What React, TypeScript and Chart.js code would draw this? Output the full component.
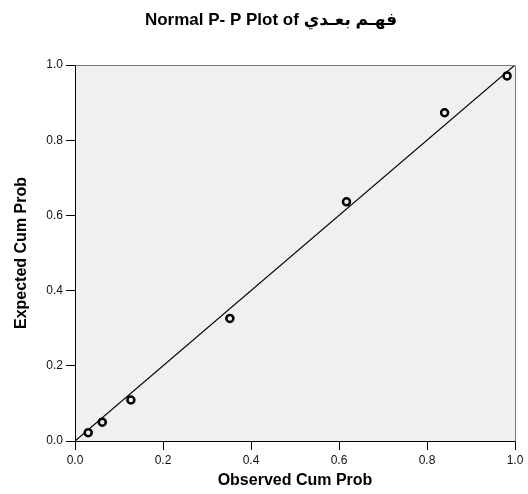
import React, { useEffect, useRef } from "react";
import { Chart, registerables } from "chart.js";

Chart.register(...registerables);

const observedCumProb = [0.030, 0.062, 0.127, 0.352, 0.617, 0.840, 0.982];
const expectedCumProb = [0.022, 0.050, 0.109, 0.326, 0.636, 0.873, 0.971];
const referenceLine = [0, 1];
const tickValues = [0, 0.2, 0.4, 0.6, 0.8, 1.0];

const chartTitle = "Normal P- P Plot of فهـم بعـدي";
const xTitle = "Observed Cum Prob";
const yTitle = "Expected Cum Prob";

const FONT = '"Liberation Sans", Arial, "DejaVu Sans", sans-serif';

export default function App() {
  const ref = useRef<HTMLCanvasElement | null>(null);

  useEffect(() => {
    if (!ref.current) return;
    const framePlugin = {
      id: "frame",
      beforeDraw(chart: any) {
        const { ctx, chartArea: a } = chart;
        ctx.save();
        ctx.fillStyle = "#f0f0f0";
        ctx.fillRect(a.left, a.top, a.right - a.left, a.bottom - a.top);
        ctx.restore();
      },
      afterDraw(chart: any) {
        const { ctx, chartArea: a } = chart;
        ctx.save();
        ctx.strokeStyle = "#7a7a7a";
        ctx.lineWidth = 1;
        ctx.beginPath();
        ctx.moveTo(Math.round(a.left) + 0.5, Math.round(a.top) + 0.5);
        ctx.lineTo(Math.round(a.right) + 0.5, Math.round(a.top) + 0.5);
        ctx.lineTo(Math.round(a.right) + 0.5, Math.round(a.bottom) + 0.5);
        ctx.stroke();

        ctx.fillStyle = "#000";
        ctx.textAlign = "center";
        ctx.textBaseline = "middle";
        ctx.font = `bold 17px ${FONT}`;
        ctx.fillText(chartTitle, 271, 20);

        ctx.font = `bold 16px ${FONT}`;
        ctx.fillText(xTitle, (a.left + a.right) / 2, 481);

        ctx.translate(22, (a.top + a.bottom) / 2);
        ctx.rotate(-Math.PI / 2);
        ctx.fillText(yTitle, 0, 0);
        ctx.restore();
      },
    };

    const chart = new Chart(ref.current, {
      type: "scatter",
      data: {
        datasets: [
          {
            label: "points",
            data: observedCumProb.map((x, i) => ({ x, y: expectedCumProb[i] })),
            pointRadius: 3.5,
            pointHoverRadius: 3.5,
            pointBorderWidth: 2.5,
            borderColor: "#000",
            backgroundColor: "#f0f0f0",
            pointBackgroundColor: "#f0f0f0",
            pointBorderColor: "#000",
            order: 0,
          },
          {
            label: "line",
            data: referenceLine.map((v) => ({ x: v, y: v })),
            showLine: true,
            pointRadius: 0,
            borderColor: "#000",
            borderWidth: 1.2,
            order: 1,
          },
        ],
      },
      options: {
        animation: false,
        responsive: false,
        layout: { padding: { top: 65, right: 13, left: 0, bottom: 0 } },
        plugins: {
          legend: { display: false },
          tooltip: { enabled: false },
          title: { display: false },
        },
        scales: {
          x: {
            type: "linear",
            min: 0,
            max: 1,
            afterBuildTicks: (s: any) => {
              s.ticks = tickValues.map((v) => ({ value: v }));
            },
            afterFit: (s: any) => {
              s.height = 53;
            },
            ticks: {
              callback: (v: any) => Number(v).toFixed(1),
              font: { family: FONT, size: 12 },
              color: "#111",
              padding: 3,
              maxRotation: 0,
            },
            grid: {
              drawOnChartArea: false,
              drawTicks: true,
              tickLength: 9,
              color: "#000",
            },
            border: { display: true, color: "#000", width: 1 },
          },
          y: {
            type: "linear",
            min: 0,
            max: 1,
            afterBuildTicks: (s: any) => {
              s.ticks = tickValues.map((v) => ({ value: v }));
            },
            afterFit: (s: any) => {
              s.width = 75;
            },
            ticks: {
              callback: (v: any) => Number(v).toFixed(1),
              font: { family: FONT, size: 12 },
              color: "#111",
              padding: 3,
            },
            grid: {
              drawOnChartArea: false,
              drawTicks: true,
              tickLength: 9,
              color: "#000",
            },
            border: { display: true, color: "#000", width: 1 },
          },
        },
      },
      plugins: [framePlugin],
    } as any);
    return () => chart.destroy();
  }, []);

  return (
    <div style={{ position: "fixed", left: 0, top: 0, width: 528, height: 494, background: "#fff" }}>
      <canvas ref={ref} width={528} height={494} style={{ display: "block" }} />
    </div>
  );
}
